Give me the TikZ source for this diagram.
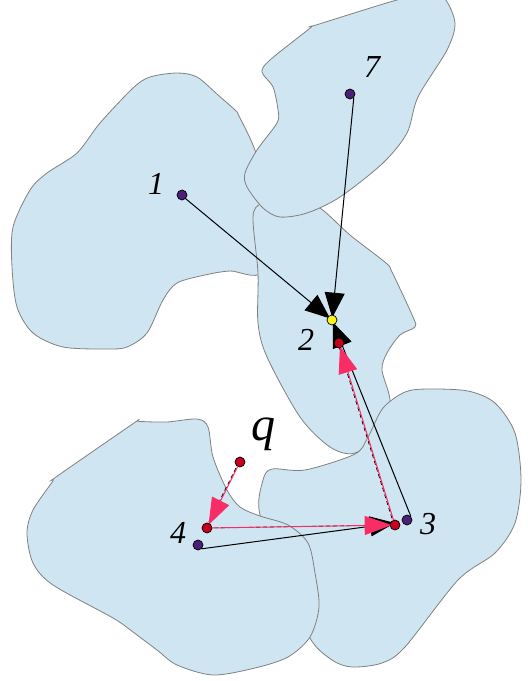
\documentclass[tikz,border=0pt]{standalone}
\usepackage{fontspec}
\setmainfont{Liberation Serif}
\usetikzlibrary{arrows.meta}
\definecolor{blobfill}{HTML}{CFE5F2}
\definecolor{sitepurple}{HTML}{4B1E78}
\definecolor{imagered}{HTML}{C8001E}
\definecolor{pinkline}{HTML}{F92D66}
\pgfdeclarelayer{under}
\pgfsetlayers{under,main}
\tikzset{
	blob/.style={draw=black!50, line width=0.8pt, fill=blobfill},
	dot/.style={circle, draw=black, line width=0.7pt, inner sep=0pt, minimum size=10pt},
	sitedot/.style={dot, fill=sitepurple},
	imagedot/.style={dot, fill=imagered},
	tag/.style={font=\itshape\fontsize{32}{32}\selectfont, inner sep=0pt},
	hop/.style={black, line width=1pt, -{Triangle[length=25pt, width=20pt]}, shorten >=-3pt},
	moved/.style={pinkline, line width=1pt, -{Triangle[length=27pt, width=19pt]}, shorten >=-2pt},
	trace/.style={black, line width=0.7pt, dashed, dash pattern=on 4pt off 3pt},
}
\begin{document}
\begin{tikzpicture}[x=1pt, y=-1pt]
	\useasboundingbox (0,0) rectangle (532,681);

	\node[sitedot] (one) at (182,195) {};
	\node[sitedot] (seven) at (350,94) {};
	\node[sitedot] (three) at (407,520) {};
	\node[sitedot] (four) at (198,545) {};
	\node[dot, fill=yellow!90!white] (two) at (332,320) {};
	\node[imagedot] (twoq) at (339,343) {};
	\node[imagedot] (threeq) at (395,525) {};
	\node[imagedot] (fourq) at (207,528) {};
	\node[imagedot] (q) at (240,462) {};

	\node[tag] (labelone) at (156,184) {1};
	\node[tag] (labelseven) at (372,67) {7};
	\node[tag] (labeltwo) at (306,340) {2};
	\node[tag] (labelthree) at (428,524) {3};
	\node[tag] (labelfour) at (178,533) {4};
	\node[tag, font=\itshape\fontsize{48}{48}\selectfont] (labelq) at (263,434) {q};

	\begin{pgfonlayer}{under}
	\draw[blob] plot[smooth cycle, tension=0.5] coordinates {(133,88) (150,77) (177,73) (197,77) (218,95) (235,110) (239,116) (256,153) (270,210) (262,272) (230,271) (205,275) (177,283) (163,300) (147,333) (127,347) (107,349) (63,347) (33,333) (17,307) (12,267) (13,227) (30,190) (47,173) (77,153) (100,123)};
	\draw[blob] plot[smooth cycle, tension=0.5] coordinates {(262,203) (253,217) (258,273) (258,323) (267,357) (300,417) (330,447) (355,453) (385,430) (390,400) (382,370) (387,353) (400,335) (415,327) (413,317) (392,272) (386,263) (350,235) (320,208) (290,195)};
	\draw[blob] plot[smooth cycle, tension=0.5] coordinates {(312,26) (316,25) (397,0) (425,-4) (444,-2) (455,23) (447,50) (418,97) (407,133) (383,163) (340,197) (307,213) (280,217) (263,208) (247,187) (245,173) (257,150) (277,123) (278,110) (273,87) (262,72) (270,60) (309,29)};
	\draw[blob] plot[smooth cycle, tension=0.5] coordinates {(260,515) (263,480) (272,469) (305,470) (355,454) (368,437) (383,408) (405,392) (428,389) (468,391) (495,403) (515,433) (521,480) (515,523) (495,553) (458,580) (405,647) (382,663) (352,667) (332,660) (310,638) (290,580)};
	\draw[blob] plot[smooth cycle, tension=0.5] coordinates {(137,421) (141,421.5) (167,422) (197,419) (208,427) (213,457) (227,490) (240,507) (260,516) (288,525) (308,543) (315,573) (319,607) (310,637) (288,657) (255,668) (213,675) (177,665) (157,650) (133,632) (113,618) (53,585) (33,563) (27,533) (33,510) (53,481) (56,477) (134,423)};

	\draw[hop] (one.south east) -- (two);
	\draw[hop] (seven.south east) -- (two);
	\draw[hop] (three.north east) -- (two);
	\draw[hop, shorten >=0pt] (four.south east) -- ([yshift=2pt]threeq.center);
	\draw[trace] ([xshift=-1pt]threeq.center) -- ([xshift=-1pt]twoq.center);
	\draw[trace] (fourq.center) -- (threeq.center);
	\draw[trace] ([xshift=-1pt]q.center) -- ([xshift=-1pt]fourq.center);
	\draw[moved] (q) -- (fourq);
	\draw[moved] (fourq) -- (threeq);
	\draw[moved] (threeq) -- (twoq);
	\end{pgfonlayer}
\end{tikzpicture}
\end{document}
